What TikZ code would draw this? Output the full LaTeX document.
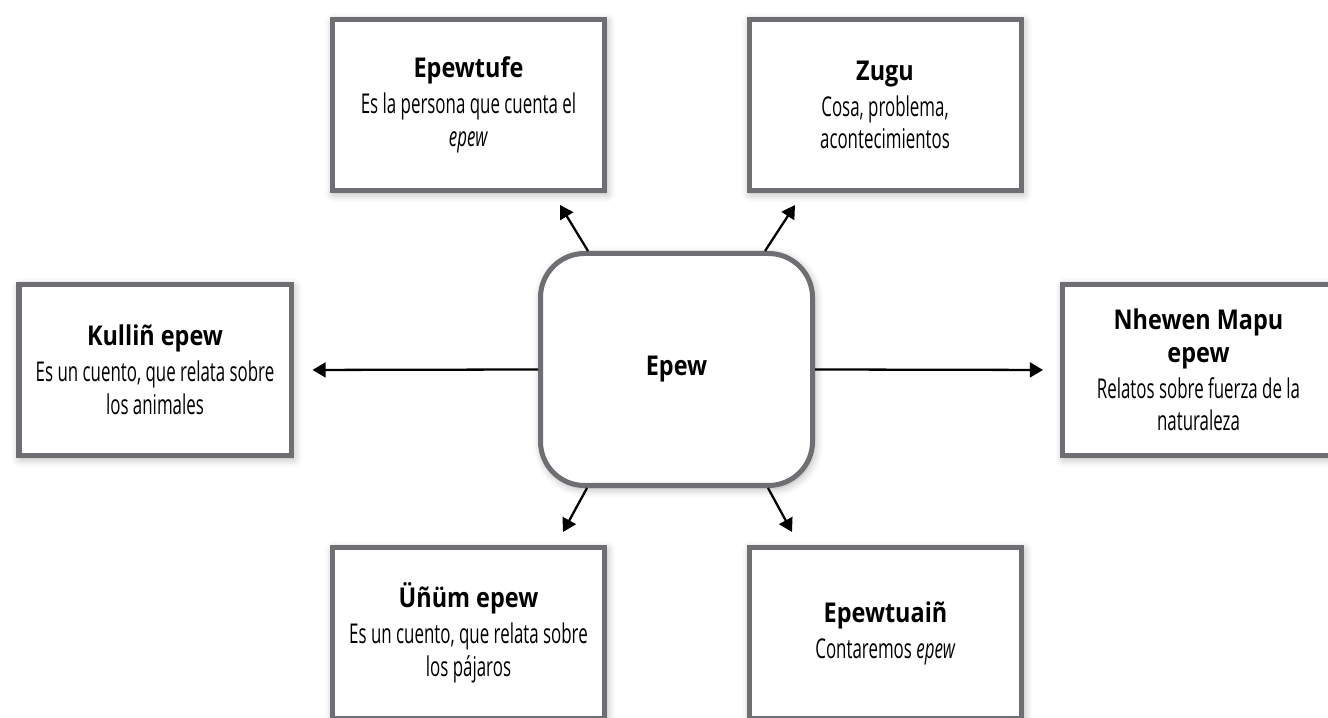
\documentclass[tikz,border=0pt]{standalone}
\usepackage{fontspec}
\setmainfont{Open Sans}
\newfontfamily\bodyfont[FakeStretch=0.62]{Open Sans}
\newfontfamily\headfont[FakeStretch=0.86]{Open Sans}
\usepackage{tikz}
\usetikzlibrary{arrows.meta,positioning,calc,shadows.blur}
\definecolor{frameGray}{RGB}{110,111,114}
\newcommand{\cardtitle}[1]{{\headfont\bfseries\fontsize{15.5}{17.5}\selectfont #1}}

\begin{document}
\begin{tikzpicture}[
  card/.style={rectangle,draw=frameGray,line width=2.85pt,fill=white,
               minimum width=5.44cm,minimum height=3.42cm,align=center,
               font=\bodyfont\fontsize{15.5}{18.5}\selectfont,
               blur shadow={shadow xshift=1pt,shadow yshift=-1.5pt,
                            shadow blur radius=5pt,shadow opacity=35}},
  hub/.style={card,rounded corners=0.88cm,minimum height=4.64cm},
  arr/.style={-{Triangle[length=7.5pt,width=8.5pt]},line width=1.3pt}
]
  \useasboundingbox (0,0) rectangle (26.56,-14.36);

  \node[hub] (epew) at (13.53,-7.39) {\cardtitle{Epew}};
  \node[card](tufe) at (9.37,-2.10)  {\cardtitle{Epewtufe}\\[2pt]
                                      Es la persona que cuenta el\\ \textit{epew}};
  \node[card](zugu) at (17.70,-2.10) {\cardtitle{Zugu}\\[2pt]
                                      Cosa, problema,\\ acontecimientos};
  \node[card](kull) at (3.10,-7.40)  {\cardtitle{Kulliñ epew}\\[2pt]
                                      Es un cuento, que relata sobre\\ los animales};
  \node[card](nhew) at (23.97,-7.40) {\cardtitle{Nhewen Mapu}\\ \cardtitle{epew}\\[2pt]
                                      Relatos sobre fuerza de la\\ naturaleza};
  \node[card](unum) at (9.37,-12.66) {\cardtitle{Üñüm epew}\\[2pt]
                                      Es un cuento, que relata sobre\\ los pájaros};
  \node[card](tuai) at (17.71,-12.66){\cardtitle{Epewtuaiñ}\\[2pt]
                                      Contaremos \textit{epew}};

  \draw[arr,shorten >=0.38cm](epew.west)--(kull.east);
  \draw[arr,shorten >=0.34cm](epew.east)--(nhew.west);
  \draw[arr]($(epew.north west)+(1.0,0)$)--($(tufe.south)+(1.83,-0.24)$);
  \draw[arr]($(epew.north east)+(-1.0,0)$)--($(zugu.south)+(-1.8,-0.24)$);
  \draw[arr]($(epew.south west)+(0.98,0)$)--($(unum.north)+(1.89,0.26)$);
  \draw[arr]($(epew.south east)+(-0.94,0)$)--($(tuai.north)+(-1.87,0.26)$);
\end{tikzpicture}
\end{document}
